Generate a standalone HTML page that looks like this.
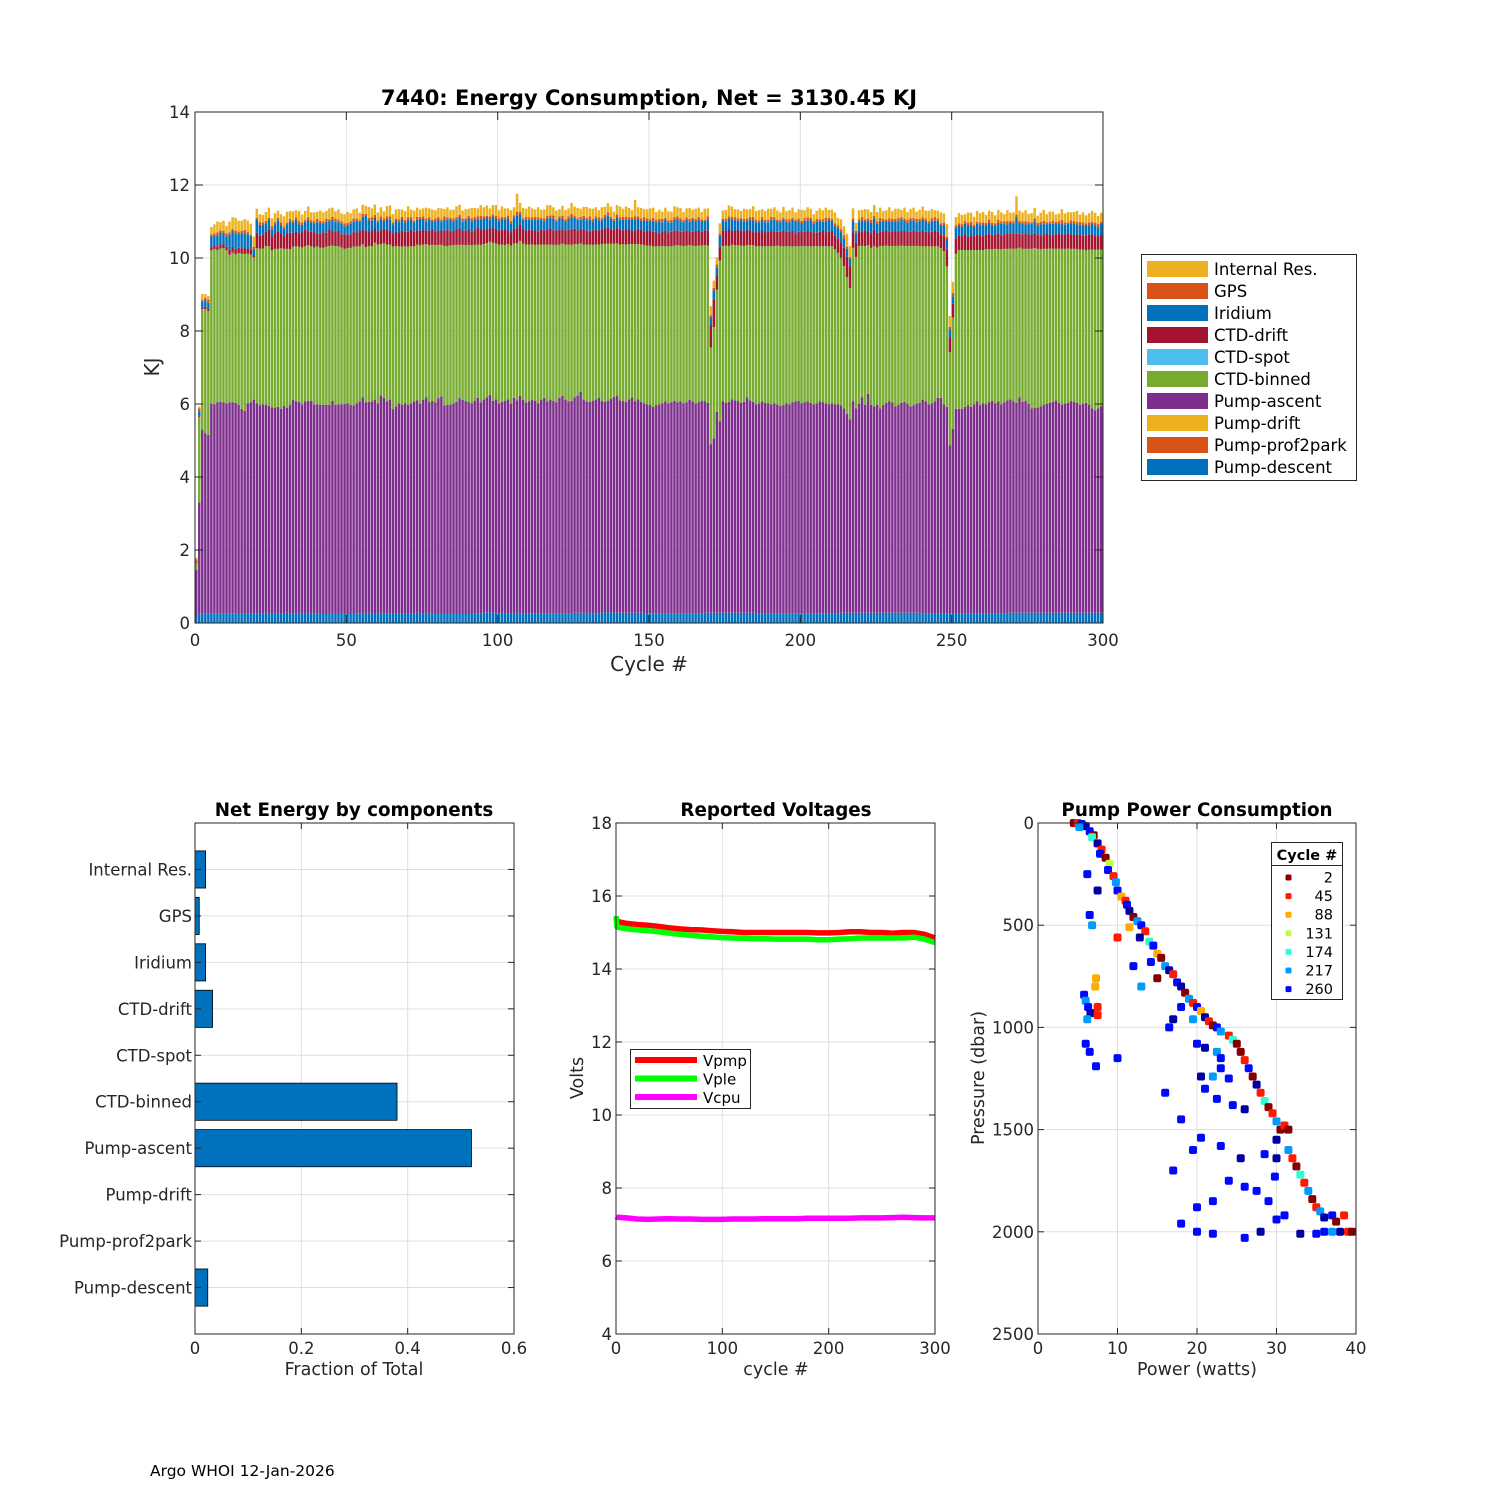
<!DOCTYPE html>
<html><head><meta charset="utf-8">
<style>
html,body{margin:0;padding:0;background:#fff;}
svg{display:block;font-family:"DejaVu Sans","Liberation Sans",sans-serif;}
.tk{font-size:16.5px;fill:#262626;}
</style></head>
<body>
<svg id="fig" width="1500" height="1500" viewBox="0 0 1500 1500" xmlns="http://www.w3.org/2000/svg">
<rect width="1500" height="1500" fill="#fff"/>
<g id="top"></g>
<g id="left"></g>
<g id="mid"></g>
<g id="right"></g>
<text x="150" y="1476" font-size="15.5" fill="#000">Argo WHOI 12-Jan-2026</text>
</svg>
<script>
// ---------- TOP CHART DATA (KJ per cycle, cycles 1..300) ----------
const pumpDescent = [0.15,0.25,0.25,0.25,0.25,0.26,0.27,0.27,0.26,0.27,0.26,0.27,0.27,0.27,0.26,0.27,0.26,0.27,0.26,0.27,
0.27,0.26,0.27,0.28,0.27,0.26,0.28,0.27,0.27,0.27,0.28,0.27,0.26,0.27,0.28,0.27,0.27,0.28,0.27,0.27,
0.27,0.26,0.26,0.26,0.26,0.27,0.26,0.26,0.27,0.26,0.26,0.26,0.26,0.27,0.27,0.28,0.27,0.28,0.27,0.26,
0.27,0.28,0.27,0.27,0.27,0.26,0.27,0.27,0.26,0.27,0.26,0.27,0.27,0.28,0.27,0.27,0.28,0.27,0.27,0.26,
0.26,0.26,0.26,0.26,0.26,0.26,0.26,0.26,0.26,0.26,0.26,0.26,0.27,0.27,0.27,0.28,0.28,0.3,0.29,0.28,
0.27,0.28,0.27,0.27,0.26,0.27,0.28,0.27,0.27,0.26,0.27,0.27,0.27,0.27,0.27,0.27,0.27,0.27,0.27,0.27,
0.27,0.27,0.27,0.27,0.27,0.28,0.28,0.28,0.27,0.27,0.28,0.27,0.27,0.27,0.28,0.3,0.29,0.29,0.29,0.28,
0.28,0.28,0.28,0.28,0.28,0.28,0.28,0.28,0.27,0.27,0.27,0.27,0.27,0.27,0.27,0.27,0.27,0.27,0.27,0.27,
0.27,0.27,0.27,0.27,0.27,0.27,0.27,0.27,0.28,0.28,0.28,0.28,0.28,0.28,0.28,0.28,0.28,0.28,0.28,0.28,
0.28,0.28,0.28,0.28,0.28,0.27,0.27,0.27,0.27,0.27,0.27,0.27,0.27,0.27,0.27,0.27,0.27,0.27,0.27,0.27,
0.27,0.27,0.27,0.27,0.27,0.27,0.27,0.27,0.27,0.27,0.27,0.27,0.27,0.28,0.28,0.28,0.28,0.28,0.28,0.28,
0.28,0.28,0.28,0.28,0.28,0.28,0.28,0.28,0.28,0.28,0.28,0.28,0.28,0.28,0.28,0.28,0.28,0.28,0.28,0.28,
0.27,0.27,0.27,0.27,0.27,0.27,0.27,0.27,0.27,0.27,0.27,0.27,0.27,0.27,0.27,0.27,0.27,0.27,0.27,0.27,
0.27,0.27,0.27,0.27,0.27,0.27,0.27,0.27,0.28,0.28,0.28,0.28,0.28,0.28,0.28,0.28,0.28,0.28,0.28,0.28,
0.28,0.28,0.28,0.28,0.28,0.28,0.28,0.28,0.28,0.28,0.28,0.28,0.28,0.28,0.28,0.28,0.28,0.28,0.28,0.28];
const pumpAscent = [1.3,3.05,5.05,4.95,4.9,5.75,5.72,5.78,5.8,5.77,
5.75,5.77,5.78,5.76,5.72,5.6,5.55,5.75,5.78,5.85,
5.75,5.7,5.72,5.7,5.68,5.65,5.62,5.65,5.6,5.68,
5.62,5.7,5.85,5.8,5.78,5.72,5.8,5.8,5.82,5.72,
5.72,5.72,5.72,5.72,5.72,5.82,5.72,5.73,5.72,5.74,
5.76,5.72,5.7,5.75,5.8,5.9,5.78,5.78,5.8,5.86,
5.75,5.95,5.9,5.8,5.85,5.6,5.66,5.75,5.72,5.75,
5.72,5.75,5.8,5.82,5.73,5.85,5.9,5.78,5.82,5.78,
5.9,5.95,5.7,5.72,5.72,5.76,5.8,5.9,5.85,5.82,
5.8,5.76,5.82,5.9,5.78,5.85,5.9,5.95,5.8,5.85,
5.75,5.78,5.82,5.86,5.75,5.9,5.82,5.95,5.85,5.78,
5.8,5.85,5.82,5.75,5.85,5.9,5.8,5.85,5.82,5.78,
5.9,5.95,5.85,5.8,5.82,5.9,5.95,6.05,5.85,5.8,
5.78,5.82,5.85,5.9,5.8,5.76,5.8,5.85,5.9,5.95,
5.82,5.8,5.78,5.85,5.9,5.8,5.85,5.78,5.75,5.72,
5.7,5.65,5.7,5.72,5.75,5.8,5.75,5.78,5.82,5.78,
5.8,5.75,5.78,5.85,5.8,5.75,5.78,5.82,5.8,5.75,
4.62,4.78,5.5,5.25,5.8,5.75,5.78,5.85,5.82,5.8,
5.75,5.78,5.9,5.82,5.78,5.72,5.75,5.8,5.76,5.75,
5.72,5.75,5.72,5.68,5.7,5.75,5.72,5.78,5.8,5.82,
5.75,5.78,5.8,5.76,5.72,5.75,5.8,5.78,5.75,5.72,
5.75,5.72,5.72,5.68,5.6,5.45,5.3,5.8,5.6,5.72,
5.9,5.7,6.0,5.7,5.65,5.7,5.6,5.7,5.75,5.8,
5.76,5.65,5.7,5.75,5.78,5.72,5.65,5.68,5.72,5.75,
5.85,5.8,5.72,5.75,5.8,5.9,5.9,5.72,5.65,4.6,
5.05,5.6,5.6,5.6,5.65,5.7,5.65,5.72,5.8,5.7,
5.75,5.72,5.78,5.82,5.75,5.8,5.72,5.78,5.82,5.85,
5.8,5.75,5.9,5.78,5.8,5.72,5.6,5.62,5.62,5.65,
5.7,5.72,5.75,5.78,5.82,5.75,5.7,5.72,5.75,5.8,
5.78,5.75,5.7,5.72,5.75,5.7,5.6,5.55,5.6,5.65];
const ctdBinned = [0.2,2.35,3.3,3.4,3.4,4.2,4.25,4.17,4.2,4.23,
4.2,4.05,4.1,4.07,4.15,4.25,4.3,4.1,4.05,3.9,
4.25,4.3,4.27,4.35,4.37,4.3,4.35,4.33,4.4,4.3,
4.35,4.27,4.2,4.25,4.25,4.3,4.25,4.27,4.23,4.3,
4.33,4.3,4.3,4.33,4.35,4.25,4.35,4.33,4.3,4.25,
4.25,4.3,4.35,4.3,4.25,4.2,4.25,4.27,4.25,4.3,
4.35,4.15,4.23,4.3,4.25,4.45,4.4,4.3,4.33,4.3,
4.33,4.3,4.25,4.27,4.35,4.25,4.2,4.3,4.27,4.31,
4.2,4.15,4.37,4.35,4.37,4.33,4.3,4.2,4.25,4.27,
4.3,4.33,4.27,4.2,4.31,4.25,4.23,4.2,4.33,4.27,
4.35,4.31,4.27,4.25,4.33,4.23,4.3,4.25,4.27,4.33,
4.3,4.25,4.27,4.35,4.25,4.2,4.3,4.25,4.27,4.31,
4.2,4.17,4.25,4.3,4.27,4.2,4.15,4.07,4.25,4.3,
4.31,4.27,4.25,4.2,4.3,4.33,4.3,4.25,4.2,4.17,
4.27,4.3,4.31,4.25,4.2,4.3,4.25,4.31,4.33,4.35,
4.37,4.4,4.35,4.33,4.31,4.25,4.3,4.27,4.25,4.3,
4.27,4.31,4.29,4.23,4.27,4.31,4.29,4.25,4.27,4.31,
2.65,3.05,3.35,4.4,4.25,4.31,4.27,4.23,4.25,4.27,
4.31,4.27,4.17,4.25,4.29,4.33,4.31,4.25,4.29,4.31,
4.33,4.31,4.35,4.37,4.35,4.31,4.33,4.27,4.25,4.23,
4.31,4.27,4.25,4.29,4.33,4.31,4.25,4.27,4.31,4.33,
4.3,4.25,4.15,4.05,3.9,3.75,3.6,4.2,4.15,4.33,
4.15,4.35,4.07,4.3,4.4,4.31,4.45,4.35,4.31,4.25,
4.29,4.4,4.35,4.31,4.27,4.33,4.4,4.37,4.33,4.3,
4.2,4.25,4.33,4.3,4.25,4.15,4.1,4.2,3.85,2.55,
3.05,4.25,4.35,4.35,4.3,4.25,4.3,4.23,4.15,4.25,
4.2,4.25,4.19,4.15,4.23,4.17,4.25,4.2,4.15,4.13,
4.17,4.23,4.1,4.19,4.17,4.25,4.37,4.37,4.35,4.31,
4.27,4.25,4.23,4.2,4.15,4.23,4.27,4.25,4.23,4.17,
4.19,4.21,4.25,4.23,4.19,4.25,4.35,4.4,4.35,4.3];
const ctdDrift = [0.02,0.03,0.05,0.06,0.06,0.08,0.1,0.1,0.12,0.1,
0.1,0.15,0.15,0.15,0.15,0.15,0.15,0.15,0.15,0.06,
0.42,0.35,0.38,0.4,0.45,0.38,0.42,0.48,0.4,0.35,
0.42,0.45,0.38,0.4,0.36,0.42,0.45,0.38,0.4,0.42,
0.36,0.4,0.42,0.38,0.45,0.4,0.38,0.42,0.36,0.4,
0.38,0.36,0.4,0.38,0.42,0.4,0.45,0.38,0.42,0.4,
0.36,0.38,0.4,0.42,0.38,0.36,0.4,0.38,0.44,0.4,
0.42,0.45,0.4,0.38,0.4,0.42,0.36,0.4,0.42,0.38,
0.4,0.38,0.42,0.44,0.38,0.4,0.42,0.45,0.38,0.4,
0.42,0.38,0.4,0.45,0.42,0.4,0.38,0.36,0.42,0.4,
0.38,0.4,0.42,0.38,0.36,0.4,0.42,0.45,0.4,0.38,
0.4,0.42,0.38,0.36,0.4,0.38,0.42,0.45,0.4,0.38,
0.42,0.4,0.38,0.4,0.44,0.42,0.38,0.4,0.42,0.38,
0.36,0.4,0.42,0.38,0.4,0.42,0.45,0.4,0.38,0.42,
0.4,0.38,0.42,0.4,0.36,0.38,0.42,0.4,0.38,0.4,
0.42,0.4,0.38,0.36,0.4,0.42,0.38,0.4,0.42,0.4,
0.38,0.4,0.42,0.36,0.38,0.42,0.4,0.38,0.4,0.42,
0.6,0.75,0.4,0.38,0.42,0.4,0.45,0.38,0.4,0.42,
0.4,0.38,0.42,0.4,0.36,0.38,0.4,0.42,0.38,0.4,
0.42,0.4,0.38,0.4,0.42,0.38,0.4,0.42,0.36,0.4,
0.38,0.4,0.42,0.4,0.38,0.36,0.4,0.42,0.38,0.4,
0.42,0.38,0.4,0.42,0.5,0.55,0.6,0.42,0.4,0.38,
0.4,0.42,0.38,0.4,0.44,0.4,0.38,0.4,0.42,0.38,
0.4,0.42,0.38,0.4,0.42,0.38,0.4,0.42,0.4,0.38,
0.42,0.4,0.38,0.4,0.42,0.4,0.38,0.42,0.45,0.4,
0.38,0.42,0.4,0.38,0.42,0.36,0.4,0.38,0.42,0.4,
0.38,0.4,0.42,0.38,0.4,0.42,0.38,0.4,0.42,0.4,
0.42,0.4,0.38,0.4,0.42,0.38,0.4,0.42,0.4,0.38,
0.4,0.42,0.38,0.36,0.4,0.42,0.4,0.38,0.42,0.4,
0.38,0.4,0.42,0.38,0.4,0.42,0.4,0.38,0.36,0.4];
const iridium = [0.02,0.12,0.15,0.18,0.16,0.3,0.28,0.3,0.32,0.3,
0.28,0.4,0.45,0.42,0.38,0.4,0.42,0.38,0.35,0.15,
0.35,0.3,0.25,0.22,0.28,0.2,0.25,0.3,0.22,0.2,
0.25,0.3,0.28,0.32,0.25,0.2,0.22,0.3,0.25,0.22,
0.3,0.28,0.25,0.3,0.22,0.32,0.28,0.25,0.3,0.22,
0.25,0.3,0.28,0.32,0.25,0.35,0.4,0.32,0.28,0.3,
0.25,0.3,0.22,0.28,0.3,0.25,0.3,0.28,0.32,0.25,
0.3,0.28,0.25,0.3,0.32,0.28,0.25,0.3,0.22,0.28,
0.3,0.25,0.3,0.28,0.32,0.25,0.28,0.3,0.25,0.28,
0.32,0.28,0.3,0.25,0.28,0.3,0.32,0.25,0.3,0.28,
0.25,0.3,0.28,0.32,0.25,0.3,0.35,0.28,0.25,0.3,
0.28,0.25,0.3,0.32,0.28,0.25,0.3,0.28,0.32,0.25,
0.3,0.28,0.25,0.3,0.32,0.3,0.28,0.25,0.3,0.28,
0.32,0.25,0.3,0.28,0.25,0.3,0.32,0.28,0.25,0.3,
0.28,0.3,0.25,0.28,0.32,0.3,0.28,0.25,0.3,0.28,
0.25,0.3,0.28,0.32,0.25,0.3,0.28,0.25,0.3,0.32,
0.28,0.25,0.3,0.28,0.32,0.25,0.3,0.28,0.25,0.3,
0.22,0.25,0.2,0.3,0.28,0.25,0.3,0.32,0.28,0.25,
0.3,0.28,0.25,0.3,0.32,0.28,0.25,0.3,0.28,0.25,
0.3,0.32,0.28,0.25,0.3,0.28,0.25,0.3,0.32,0.28,
0.25,0.3,0.28,0.32,0.25,0.3,0.28,0.25,0.3,0.32,
0.28,0.25,0.3,0.28,0.25,0.22,0.2,0.3,0.25,0.28,
0.3,0.25,0.3,0.28,0.32,0.25,0.3,0.28,0.25,0.3,
0.28,0.25,0.3,0.32,0.28,0.25,0.3,0.28,0.25,0.3,
0.32,0.28,0.25,0.3,0.28,0.3,0.25,0.28,0.3,0.22,
0.2,0.3,0.28,0.25,0.3,0.32,0.28,0.25,0.3,0.28,
0.32,0.25,0.3,0.28,0.25,0.3,0.32,0.28,0.25,0.3,
0.28,0.45,0.3,0.28,0.25,0.3,0.28,0.32,0.25,0.3,
0.28,0.25,0.3,0.32,0.28,0.25,0.3,0.28,0.25,0.3,
0.32,0.28,0.25,0.3,0.28,0.25,0.3,0.28,0.25,0.3];
const gps = Array(300).fill(0).map((_, i) => [0.05,0.08,0.06,0.07,0.09,0.06][i % 6]);
const internalRes = [0.05,0.05,0.15,0.1,0.1,0.2,0.25,0.3,0.22,0.28,
0.2,0.3,0.32,0.35,0.3,0.28,0.3,0.32,0.3,0.28,
0.25,0.22,0.2,0.25,0.28,0.22,0.25,0.2,0.22,0.28,
0.3,0.22,0.25,0.2,0.28,0.22,0.25,0.3,0.22,0.25,
0.2,0.28,0.25,0.22,0.3,0.25,0.2,0.28,0.22,0.25,
0.3,0.22,0.25,0.28,0.2,0.25,0.22,0.3,0.25,0.28,
0.22,0.25,0.2,0.28,0.3,0.22,0.25,0.28,0.2,0.25,
0.3,0.22,0.28,0.25,0.2,0.22,0.3,0.25,0.28,0.22,
0.25,0.3,0.2,0.28,0.22,0.25,0.3,0.28,0.22,0.25,
0.2,0.28,0.25,0.22,0.3,0.25,0.28,0.22,0.25,0.3,
0.22,0.28,0.25,0.2,0.3,0.22,0.5,0.25,0.28,0.22,
0.3,0.25,0.2,0.28,0.22,0.25,0.3,0.28,0.22,0.25,
0.2,0.28,0.25,0.22,0.3,0.25,0.28,0.22,0.25,0.3,
0.22,0.28,0.25,0.2,0.3,0.22,0.25,0.28,0.2,0.25,
0.3,0.22,0.28,0.25,0.2,0.45,0.25,0.28,0.22,0.25,
0.3,0.28,0.22,0.25,0.2,0.28,0.25,0.22,0.3,0.25,
0.28,0.22,0.25,0.3,0.22,0.28,0.25,0.2,0.3,0.22,
0.25,0.2,0.2,0.28,0.22,0.25,0.3,0.28,0.22,0.25,
0.2,0.28,0.25,0.22,0.3,0.25,0.28,0.22,0.25,0.3,
0.22,0.28,0.25,0.2,0.3,0.22,0.25,0.28,0.2,0.25,
0.3,0.22,0.28,0.25,0.2,0.22,0.3,0.25,0.28,0.22,
0.25,0.3,0.2,0.28,0.25,0.35,0.3,0.28,0.22,0.25,
0.2,0.28,0.25,0.22,0.3,0.25,0.28,0.22,0.25,0.3,
0.22,0.28,0.25,0.2,0.3,0.22,0.25,0.28,0.2,0.25,
0.3,0.22,0.28,0.25,0.2,0.22,0.3,0.25,0.35,0.3,
0.3,0.22,0.28,0.25,0.2,0.28,0.25,0.22,0.3,0.25,
0.28,0.22,0.25,0.3,0.22,0.28,0.25,0.2,0.3,0.22,
0.25,0.5,0.28,0.25,0.3,0.22,0.25,0.28,0.2,0.25,
0.3,0.22,0.28,0.25,0.2,0.22,0.3,0.25,0.28,0.22,
0.25,0.3,0.2,0.28,0.22,0.25,0.3,0.28,0.22,0.25];
const topYTicks = [0,2,4,6,8,10,12,14];
const topXTicks = [0,50,100,150,200,250,300];

// ---------- LEFT CHART DATA ----------
const compNames = ["Internal Res.","GPS","Iridium","CTD-drift","CTD-spot","CTD-binned","Pump-ascent","Pump-drift","Pump-prof2park","Pump-descent"];
const compFractions = [0.02,0.008,0.02,0.033,0,0.38,0.52,0,0,0.024];
const fracTicks = [0,0.2,0.4,0.6];

// ---------- MIDDLE CHART DATA ----------
const voltCycles = [0,1,10,20,30,40,50,60,70,80,90,100,110,120,130,140,150,160,170,180,190,200,210,220,230,240,250,260,270,280,290,300];
const vpmp = [15.35,15.3,15.25,15.22,15.2,15.17,15.13,15.1,15.08,15.07,15.05,15.03,15.02,15.0,15.0,15.0,15.0,15.0,15.0,15.0,14.99,14.99,15.0,15.02,15.02,15.0,15.0,14.98,15.0,15.0,14.95,14.85];
const vple = [15.45,15.15,15.1,15.07,15.05,15.02,14.98,14.95,14.92,14.9,14.88,14.86,14.85,14.84,14.83,14.83,14.82,14.82,14.82,14.82,14.8,14.8,14.82,14.83,14.85,14.85,14.85,14.85,14.85,14.87,14.82,14.72];
const vcpu = [7.22,7.2,7.18,7.15,7.14,7.15,7.16,7.15,7.15,7.14,7.14,7.14,7.15,7.15,7.15,7.16,7.16,7.16,7.16,7.17,7.17,7.17,7.17,7.17,7.18,7.18,7.18,7.19,7.2,7.19,7.18,7.18];
const voltYTicks = [4,6,8,10,12,14,16,18];
const voltXTicks = [0,100,200,300];

// ---------- RIGHT CHART DATA ----------
const pumpPower = [4.5,5,5.5,6,5.2,6.5,7,6.8,7.5,8,7.8,8.5,9,8.8,9.5,9.8,6.2,7.5,
10,10.5,11,11.2,11.5,12,12.5,13,13.5,12.8,14,14.5,15,15.5,14.2,16,16.5,6.5,6.8,10,11.5,12,13,15,
17,17.5,18,18.5,19,19.5,20,20.5,21,21.5,22,22.5,23,24,24.5,25,18,17,16.5,19.5,20,21,22.5,23,
5.8,6,6.3,6.6,6.2,7.2,7.3,7.5,7.5,6,6.5,7.3,10,
25.5,26,26.5,27,27.5,28,28.5,29,29.5,30,30.5,31,31.5,30,24,23,22,20.5,21,22.5,24.5,26,16,18,20.5,23,19.5,17,
31.5,32,32.5,33,33.5,34,34.5,35,35.5,36,37,37.5,38.5,39,39.5,38,37,36,35,33,31,29,27.5,25.5,26,24,22,20,18,20,22,26,28,30,28.5,30,29.8];
const pumpPressure = [0,0,5,15,20,40,60,70,100,130,150,170,200,230,260,290,250,330,
330,360,380,400,430,460,480,500,530,560,580,600,640,660,680,700,720,450,500,560,510,700,800,760,
740,780,800,830,860,880,900,920,950,970,990,1000,1020,1040,1060,1080,900,960,1000,960,1080,1100,1120,1150,
840,870,900,930,960,800,760,900,940,1080,1120,1190,1150,
1120,1160,1200,1240,1280,1320,1360,1390,1420,1460,1500,1480,1500,1550,1250,1200,1240,1240,1300,1350,1380,1400,1320,1450,1540,1580,1600,1700,
1600,1640,1680,1720,1760,1800,1840,1880,1900,1930,1920,1950,1920,2000,2000,2000,2000,2000,2010,2010,1920,1850,1800,1640,1780,1750,1850,1880,1960,2000,2010,2030,2000,1940,1620,1640,1730];
const pumpCycle = [2,45,260,290,217,260,2,174,290,45,260,2,131,260,45,217,260,290,
260,88,45,260,290,2,217,260,45,290,174,260,88,2,260,217,290,260,217,45,88,260,217,2,
45,260,290,2,217,45,260,88,290,45,2,260,217,45,174,2,260,290,260,217,260,290,217,260,
260,217,260,290,217,88,88,45,45,260,260,260,260,
2,45,260,2,290,45,174,2,45,217,2,45,2,290,260,260,217,290,260,260,260,290,260,260,260,260,260,260,
217,45,2,174,45,217,2,45,217,290,260,2,45,45,2,290,217,260,260,290,260,260,260,290,260,260,260,260,260,260,260,260,290,260,260,290,260];
const legendCycles = [2,45,88,131,174,217,260];
const powerTicks = [0,10,20,30,40];
const pressTicks = [0,500,1000,1500,2000,2500];

// ---------- helpers ----------
const NS = "http://www.w3.org/2000/svg";
function mk(parent, tag, attrs, text) {
  const e = document.createElementNS(NS, tag);
  for (const k in attrs) e.setAttribute(k, attrs[k]);
  if (text !== undefined) e.textContent = text;
  parent.appendChild(e);
  return e;
}
const GRID = "#dfdfdf", AX = "#262626";
function frame(g, x0, y0, x1, y1) {
  const r = mk(g, "rect", {x:x0, y:y0, width:x1-x0, height:y1-y0, fill:"none", stroke:AX, "stroke-width":1});
  
  
}
function jet(v) {
  const c = t => Math.max(0, Math.min(1, t));
  const r = c(1.5 - Math.abs(4*v - 3)), g = c(1.5 - Math.abs(4*v - 2)), b = c(1.5 - Math.abs(4*v - 1));
  return `rgb(${Math.round(r*255)},${Math.round(g*255)},${Math.round(b*255)})`;
}
const cycColor = c => jet(1 - c/300);

// ---------- TOP CHART ----------
(function(){
  const g = document.getElementById("top");
  const X0=195, X1=1103, Y0=112, Y1=623;
  const xs = v => X0 + v*(X1-X0)/300;
  const ys = v => Y1 - v*(Y1-Y0)/14;
  topYTicks.forEach(t => {
    const l = mk(g, "line", {x1:X0, x2:X1, y1:ys(t), y2:ys(t), stroke:GRID});
    
    
  });
  topXTicks.forEach(t => {
    const l = mk(g, "line", {x1:xs(t), x2:xs(t), y1:Y0, y2:Y1, stroke:GRID});
    
    
  });
  const series = [
    [pumpDescent, "#0072BD", "pump-descent"],
    [pumpAscent, "#7E2F8E", "pump-ascent"],
    [ctdBinned, "#77AC30", "ctd-binned"],
    [ctdDrift, "#A2142F", "ctd-drift"],
    [iridium, "#0072BD", "iridium"],
    [gps, "#D95319", "gps"],
    [internalRes, "#EDB120", "internal-res"]
  ];
  const bw = (X1-X0)/300;
  for (let i = 0; i < 300; i++) {
    let base = 0;
    const x = X0 + i*bw;
    series.forEach(([arr, col, nm]) => {
      const v = arr[i];
      const r = mk(g, "rect", {x:x.toFixed(2), y:ys(base+v).toFixed(2), width:(bw*0.82).toFixed(2), height:(ys(base)-ys(base+v)).toFixed(2), fill:col});
      
      
      base += v;
    });
  }
  frame(g, X0, Y0, X1, Y1);
  topYTicks.forEach(t => {
    mk(g, "line", {x1:X0, x2:X0+8, y1:ys(t), y2:ys(t), stroke:AX});
    mk(g, "line", {x1:X1-8, x2:X1, y1:ys(t), y2:ys(t), stroke:AX});
    const tx = mk(g, "text", {x:X0-5, y:ys(t)+6, "text-anchor":"end", class:"tk", "font-size":18}, t);
    
    
  });
  topXTicks.forEach(t => {
    mk(g, "line", {x1:xs(t), x2:xs(t), y1:Y1-8, y2:Y1, stroke:AX});
    mk(g, "line", {x1:xs(t), x2:xs(t), y1:Y0, y2:Y0+8, stroke:AX});
    const tx = mk(g, "text", {x:xs(t), y:Y1+23, "text-anchor":"middle", class:"tk", "font-size":18}, t);
    
    
  });
  const tt = mk(g, "text", {x:649, y:105, "text-anchor":"middle", "font-size":21, "font-weight":"bold", fill:"#000", "xml:space":"preserve"}, "7440: Energy Consumption,  Net = 3130.45 KJ");
  
  
  const xl = mk(g, "text", {x:649, y:671, "text-anchor":"middle", "font-size":20, fill:AX}, "Cycle #");
  
  
  const yl = mk(g, "text", {x:0, y:0, transform:"translate(159,367) rotate(-90)", "text-anchor":"middle", "font-size":20, fill:AX}, "KJ");
  
  
  const lg = mk(g, "g", {});
  
  
  mk(lg, "rect", {x:1141.5, y:254.5, width:215, height:226, fill:"#fff", stroke:AX});
  const legCols = ["#EDB120","#D95319","#0072BD","#A2142F","#4DBEEE","#77AC30","#7E2F8E","#EDB120","#D95319","#0072BD"];
  compNames.forEach((n, i) => {
    const y = 269 + i*22;
    const sw = mk(lg, "rect", {x:1147, y:y-8, width:61, height:16, fill:legCols[i]});
    
    
    const t = mk(lg, "text", {x:1214, y:y+6, "font-size":16.5, fill:"#000"}, n);
    
    
  });
})();

// ---------- LEFT CHART ----------
(function(){
  const g = document.getElementById("left");
  const X0=195, X1=514, Y0=823, Y1=1334;
  const xs = v => X0 + v*(X1-X0)/0.6;
  const slot = (Y1-Y0)/11;
  const ys = i => Y0 + (i+1)*slot;
  function n2k(s){return s.toLowerCase().replace(/[^a-z0-9]+/g,'-').replace(/-$/,'');}
  fracTicks.forEach(t => mk(g, "line", {x1:xs(t), x2:xs(t), y1:Y0, y2:Y1, stroke:GRID}));
  compNames.forEach((n, i) => mk(g, "line", {x1:X0, x2:X1, y1:ys(i), y2:ys(i), stroke:GRID}));
  compFractions.forEach((v, i) => {
    if (v <= 0) return;
    const r = mk(g, "rect", {x:X0, y:ys(i)-slot*0.4, width:xs(v)-X0, height:slot*0.8, fill:"#0072BD", stroke:"#000", "stroke-width":0.8});
    
    
  });
  frame(g, X0, Y0, X1, Y1);
  compNames.forEach((n, i) => {
    mk(g, "line", {x1:X0, x2:X0+6, y1:ys(i), y2:ys(i), stroke:AX});
    mk(g, "line", {x1:X1-6, x2:X1, y1:ys(i), y2:ys(i), stroke:AX});
    const t = mk(g, "text", {x:X0-3, y:ys(i)+6, "text-anchor":"end", class:"tk"}, n);
    
    
  });
  fracTicks.forEach(t => {
    mk(g, "line", {x1:xs(t), x2:xs(t), y1:Y1-6, y2:Y1, stroke:AX});
    mk(g, "line", {x1:xs(t), x2:xs(t), y1:Y0, y2:Y0+6, stroke:AX});
    const tx = mk(g, "text", {x:xs(t), y:Y1+20, "text-anchor":"middle", class:"tk"}, t);
    
    
  });
  const tt = mk(g, "text", {x:354, y:816, "text-anchor":"middle", "font-size":18.3, "font-weight":"bold", fill:"#000"}, "Net Energy by components");
  
  
  const xl = mk(g, "text", {x:354, y:1375, "text-anchor":"middle", "font-size":17.5, fill:AX}, "Fraction of Total");
  
  
})();

// ---------- MIDDLE CHART ----------
(function(){
  const g = document.getElementById("mid");
  const X0=616, X1=935, Y0=823, Y1=1334;
  const xs = v => X0 + v*(X1-X0)/300;
  const ys = v => Y1 - (v-4)*(Y1-Y0)/14;
  voltYTicks.forEach(t => mk(g, "line", {x1:X0, x2:X1, y1:ys(t), y2:ys(t), stroke:GRID}));
  voltXTicks.forEach(t => mk(g, "line", {x1:xs(t), x2:xs(t), y1:Y0, y2:Y1, stroke:GRID}));
  [[vpmp,"#ff0000","vpmp-line"],[vple,"#00ff00","vple-line"],[vcpu,"#ff00ff","vcpu-line"]].forEach(([arr,col,nm]) => {
    const pts = arr.map((v,i) => xs(voltCycles[i]).toFixed(1)+","+ys(v).toFixed(1)).join(" ");
    const p = mk(g, "polyline", {points:pts, fill:"none", stroke:col, "stroke-width":5.5, "stroke-linejoin":"round"});
    
    
  });
  frame(g, X0, Y0, X1, Y1);
  voltYTicks.forEach(t => {
    mk(g, "line", {x1:X0, x2:X0+6, y1:ys(t), y2:ys(t), stroke:AX});
    mk(g, "line", {x1:X1-6, x2:X1, y1:ys(t), y2:ys(t), stroke:AX});
    const tx = mk(g, "text", {x:X0-4, y:ys(t)+6, "text-anchor":"end", class:"tk"}, t);
    
    
  });
  voltXTicks.forEach(t => {
    mk(g, "line", {x1:xs(t), x2:xs(t), y1:Y1-6, y2:Y1, stroke:AX});
    mk(g, "line", {x1:xs(t), x2:xs(t), y1:Y0, y2:Y0+6, stroke:AX});
    const tx = mk(g, "text", {x:xs(t), y:Y1+20, "text-anchor":"middle", class:"tk"}, t);
    
    
  });
  const tt = mk(g, "text", {x:776, y:816, "text-anchor":"middle", "font-size":18.3, "font-weight":"bold", fill:"#000"}, "Reported Voltages");
  
  
  const xl = mk(g, "text", {x:776, y:1375, "text-anchor":"middle", "font-size":17.5, fill:AX}, "cycle #");
  
  
  const yl = mk(g, "text", {x:0, y:0, transform:"translate(583,1078) rotate(-90)", "text-anchor":"middle", "font-size":17.5, fill:AX}, "Volts");
  
  
  const lg = mk(g, "g", {});
  
  
  mk(lg, "rect", {x:630.5, y:1049.5, width:120, height:59, fill:"#fff", stroke:AX});
  [["Vpmp","#ff0000"],["Vple","#00ff00"],["Vcpu","#ff00ff"]].forEach(([n,c],i) => {
    const y = 1060 + i*18.5;
    mk(lg, "line", {x1:635, x2:697, y1:y, y2:y, stroke:c, "stroke-width":6});
    const t = mk(lg, "text", {x:703, y:y+6, "font-size":15, fill:"#000"}, n);
    
    
  });
})();

// ---------- RIGHT CHART ----------
(function(){
  const g = document.getElementById("right");
  const X0=1038, X1=1356, Y0=823, Y1=1334;
  const xs = v => X0 + v*(X1-X0)/40;
  const ys = v => Y0 + v*(Y1-Y0)/2500;
  pressTicks.forEach(t => mk(g, "line", {x1:X0, x2:X1, y1:ys(t), y2:ys(t), stroke:GRID}));
  powerTicks.forEach(t => mk(g, "line", {x1:xs(t), x2:xs(t), y1:Y0, y2:Y1, stroke:GRID}));
  pumpPower.forEach((p, i) => {
    const c = mk(g, "rect", {x:(xs(p)-4).toFixed(1), y:(ys(pumpPressure[i])-4).toFixed(1), width:8, height:8, rx:2, fill:cycColor(pumpCycle[i])});
    
    
  });
  frame(g, X0, Y0, X1, Y1);
  pressTicks.forEach(t => {
    mk(g, "line", {x1:X0, x2:X0+6, y1:ys(t), y2:ys(t), stroke:AX});
    mk(g, "line", {x1:X1-6, x2:X1, y1:ys(t), y2:ys(t), stroke:AX});
    const tx = mk(g, "text", {x:X0-4, y:ys(t)+6, "text-anchor":"end", class:"tk"}, t);
    
    
  });
  powerTicks.forEach(t => {
    mk(g, "line", {x1:xs(t), x2:xs(t), y1:Y1-6, y2:Y1, stroke:AX});
    mk(g, "line", {x1:xs(t), x2:xs(t), y1:Y0, y2:Y0+6, stroke:AX});
    const tx = mk(g, "text", {x:xs(t), y:Y1+20, "text-anchor":"middle", class:"tk"}, t);
    
    
  });
  const tt = mk(g, "text", {x:1197, y:816, "text-anchor":"middle", "font-size":18.3, "font-weight":"bold", fill:"#000"}, "Pump Power Consumption");
  
  
  const xl = mk(g, "text", {x:1197, y:1375, "text-anchor":"middle", "font-size":17.5, fill:AX}, "Power (watts)");
  
  
  const yl = mk(g, "text", {x:0, y:0, transform:"translate(984,1078) rotate(-90)", "text-anchor":"middle", "font-size":17.5, fill:AX}, "Pressure (dbar)");
  
  
  const lg = mk(g, "g", {});
  
  
  mk(lg, "rect", {x:1271.5, y:842.5, width:71, height:157, fill:"#fff", stroke:AX});
  mk(lg, "line", {x1:1271.5, x2:1342.5, y1:865.5, y2:865.5, stroke:AX});
  const ht = mk(lg, "text", {x:1307, y:860, "text-anchor":"middle", "font-size":14.5, "font-weight":"bold", fill:"#000"}, "Cycle #");
  
  
  legendCycles.forEach((c, i) => {
    const y = 877.5 + i*18.6;
    mk(lg, "rect", {x:1285.5, y:y-3, width:6, height:6, rx:1.5, fill:cycColor(c)});
    const t = mk(lg, "text", {x:1333, y:y+5, "text-anchor":"end", "font-size":14.5, fill:"#000"}, c);
    
    
  });
})();
</script>
</body></html>
